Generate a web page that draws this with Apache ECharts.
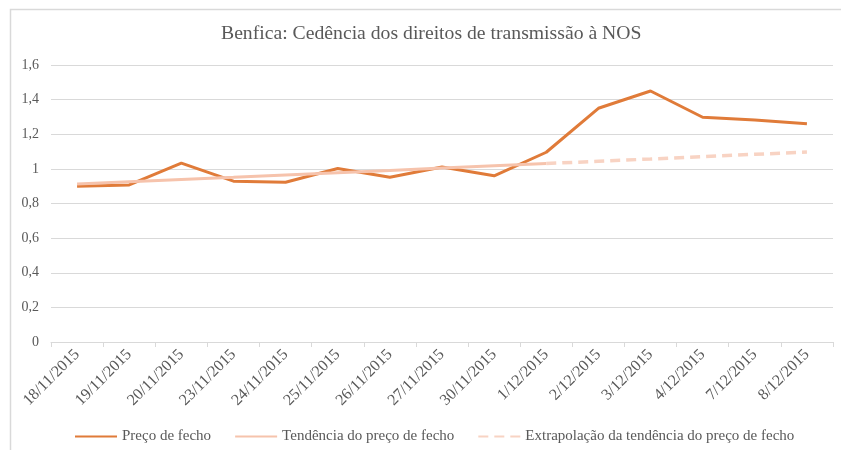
<!DOCTYPE html>
<html>
<head>
<meta charset="utf-8">
<script src="https://cdn.jsdelivr.net/npm/echarts@6/dist/echarts.min.js"></script>
<style>
html,body{margin:0;padding:0;background:#fff;}
#c{width:841px;height:450px;}
</style>
</head>
<body>
<div id="c"></div>
<script>
const titleText = 'Benfica: Cedência dos direitos de transmissão à NOS';
const categories = ['18/11/2015','19/11/2015','20/11/2015','23/11/2015','24/11/2015','25/11/2015','26/11/2015','27/11/2015','30/11/2015','1/12/2015','2/12/2015','3/12/2015','4/12/2015','7/12/2015','8/12/2015'];
const seriesNames = ['Preço de fecho','Tendência do preço de fecho','Extrapolação da tendência do preço de fecho'];
const closePrice = [0.899,0.907,1.033,0.929,0.923,1.002,0.952,1.011,0.960,1.096,1.350,1.450,1.298,1.282,1.261];
const trend = [0.912,0.925,0.938,0.951,0.965,0.978,0.991,1.005,1.018,1.031,null,null,null,null,null];
const extrapolation = [null,null,null,null,null,null,null,null,null,1.031,1.044,1.057,1.071,1.084,1.097];
const yTicks = {min:0,max:1.6,interval:0.2};

const chart = echarts.init(document.getElementById('c'));
const serif = '"Liberation Serif","DejaVu Serif",serif';
const fmt = v => String(Math.round(v*10)/10).replace('.',',');
chart.setOption({
  animation:false,
  backgroundColor:'#fff',
  textStyle:{fontFamily:serif},
  graphic:[{type:'rect',shape:{x:10.5,y:9.5,width:900,height:500},style:{fill:'none',stroke:'#d9d9d9',lineWidth:1.5},silent:true}],
  title:{text:titleText,left:216,top:19,textStyle:{fontFamily:serif,fontWeight:'normal',fontSize:19.7,color:'#595959'}},
  grid:{left:51,right:8,top:65,bottom:108,containLabel:false},
  legend:{top:424,left:69,itemWidth:42,itemHeight:3,itemGap:23,
    itemStyle:{opacity:0},
    textStyle:{fontFamily:serif,fontSize:15,color:'#595959'},data:seriesNames},
  xAxis:{type:'category',data:categories,boundaryGap:true,
    axisLine:{lineStyle:{color:'#d9d9d9',width:1}},
    axisTick:{show:true,length:5,lineStyle:{color:'#d9d9d9'}},
    axisLabel:{rotate:45,fontFamily:serif,fontSize:16,color:'#595959',margin:10,interval:0}},
  yAxis:{type:'value',min:yTicks.min,max:yTicks.max,interval:yTicks.interval,
    axisLine:{show:false},axisTick:{show:false},
    splitLine:{lineStyle:{color:'#d9d9d9',width:1}},
    axisLabel:{formatter:fmt,fontFamily:serif,fontSize:14,color:'#595959',margin:12}},
  series:[
    {name:seriesNames[0],type:'line',data:closePrice,symbol:'none',lineStyle:{color:'#E07B39',width:3},itemStyle:{color:'#E07B39'},z:3},
    {name:seriesNames[1],type:'line',data:trend,symbol:'none',lineStyle:{color:'#F6C3AC',width:3},itemStyle:{color:'#F6C3AC'},z:4},
    {name:seriesNames[2],type:'line',data:extrapolation,symbol:'none',lineStyle:{color:'#F8D3C3',width:3.5,type:[10,6]},itemStyle:{color:'#F8D3C3'},z:4}
  ]
});
</script>
</body>
</html>
